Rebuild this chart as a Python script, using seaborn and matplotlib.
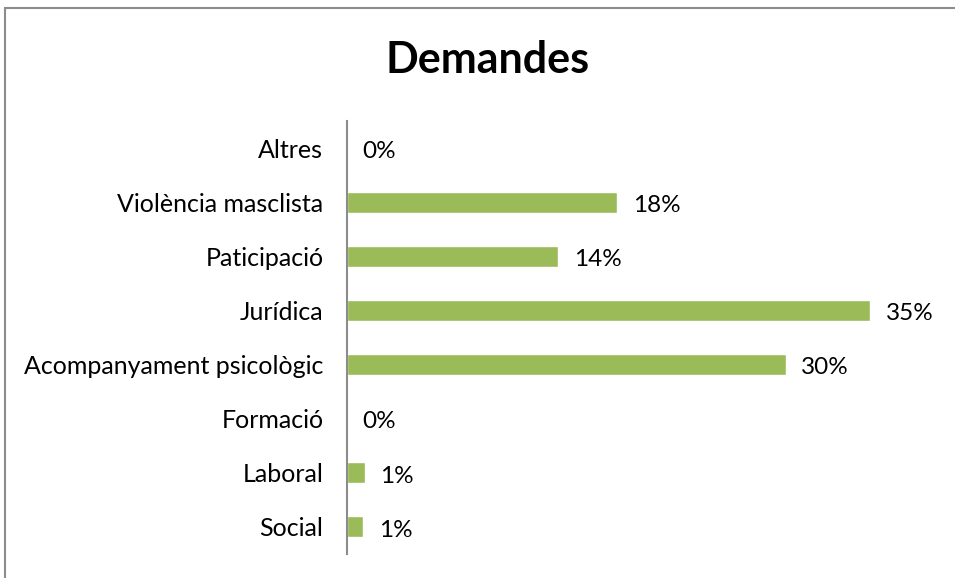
import matplotlib
matplotlib.use("Agg")
import matplotlib.pyplot as plt
import seaborn as sns
import pandas as pd
from matplotlib.patches import Rectangle

categories = ["Altres", "Violència masclista", "Paticipació", "Jurídica",
              "Acompanyament psicològic", "Formació", "Laboral", "Social"]
values = [0.0, 0.183, 0.143, 0.354, 0.297, 0.0, 0.012, 0.011]
labels = ["0%", "18%", "14%", "35%", "30%", "0%", "1%", "1%"]
title = "Demandes"

sns.set_theme(style="white")
plt.rcParams["font.family"] = ["Lato", "DejaVu Sans"]

df = pd.DataFrame({"cat": categories, "val": values})

fig = plt.figure(figsize=(9.55, 5.78), dpi=100)
ax = fig.add_axes([347/955, 1-554/578, (938-347)/955, (554-121)/578])
sns.barplot(data=df, y="cat", x="val", order=categories, color="#9BBB59",
            saturation=1, width=0.39, ax=ax)
ax.set_xlim(0, 0.4)
ax.set_ylim(len(categories)-0.5, -0.5)
ax.set_xlabel("")
ax.set_ylabel("")
ax.set_xticks([])
for s in ["top", "right", "bottom"]:
    ax.spines[s].set_visible(False)
ax.spines["left"].set_color("#8c8c8c")
ax.spines["left"].set_linewidth(1.5)
ax.tick_params(axis="y", length=0, pad=17, labelsize=18, labelcolor="#000000")

for i, (v, lab) in enumerate(zip(values, labels)):
    ax.text(v + 0.0105, i + 0.06, lab, va="center", ha="left", fontsize=17.5, color="#000000")

fig.text(488/955, 1-60/578, title, ha="center", va="center", fontsize=31,
         fontweight="bold", color="#000000")

fig.patches.append(Rectangle((5/955, -0.05), 1.1, 1-8/578+0.05, transform=fig.transFigure,
                             fill=False, edgecolor="#8c8c8c", linewidth=1.5, clip_on=False))

fig.savefig("out.png", dpi=100, facecolor="white")
